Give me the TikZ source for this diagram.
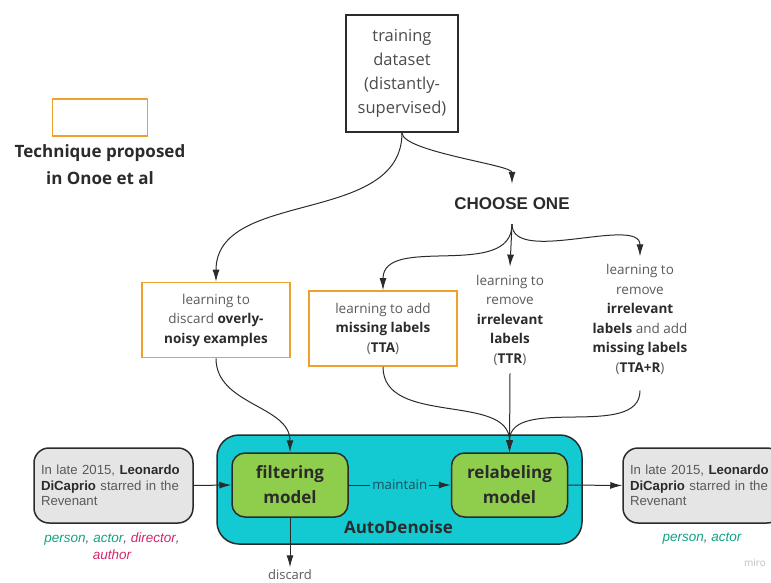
\documentclass[tikz,border=0pt]{standalone}
\usepackage{fontspec}
\setmainfont{Open Sans}
\newfontfamily\arialfont{Liberation Sans}
\usetikzlibrary{arrows.meta}
\definecolor{ochre}{HTML}{F0A02C}
\definecolor{ink}{HTML}{2B2B2B}
\definecolor{greytext}{HTML}{5A5A5A}
\definecolor{tealbox}{HTML}{13CAD3}
\definecolor{leafbox}{HTML}{8FCE4C}
\definecolor{sentbox}{HTML}{E5E5E5}
\definecolor{tagok}{HTML}{12A283}
\definecolor{tagbad}{HTML}{D3246E}
\definecolor{tealtext}{HTML}{1B4F5E}
\newcommand\keyw[1]{\textbf{\color{ink}#1}}

\begin{document}
\begin{tikzpicture}[x=1pt,y=-1pt,
    >={Latex[length=12pt,width=7pt]},
    link/.style={->,line width=1pt,color=ink},
    body/.style={font=\fontsize{13.5}{19.5}\selectfont,text=greytext,align=center},
    technique/.style={body,draw=ochre,line width=1.6pt,minimum width=148,minimum height=75,inner sep=0pt},
    option/.style={body,inner sep=8pt},
    model/.style={draw=ink,line width=1.5pt,fill=leafbox,rounded corners=13pt,minimum width=116,minimum height=64,
      font=\bfseries\fontsize{17}{25}\selectfont,text=ink,align=center},
    sentence/.style={draw=ink,line width=1.5pt,fill=sentbox,rounded corners=15pt,minimum width=159,minimum height=75,
      text width=145,align=left,font=\arialfont\fontsize{13.2}{15.5}\selectfont,text=greytext},
    tags/.style={font=\arialfont\itshape\fontsize{13.5}{17}\selectfont,text=greytext,align=center}]
  \useasboundingbox (0,0) rectangle (771,583);

  \node[draw=ochre,line width=1.6pt,minimum width=95,minimum height=37] (key) at (100,117.5) {};
  \node[font=\bfseries\fontsize{17}{27}\selectfont,text=ink,align=center] (keylbl) at (100,164.5) {Technique proposed\\in Onoe et al};

  \node[draw=ink,line width=1.5pt,minimum width=112,minimum height=117,inner sep=0pt,
    font=\fontsize{16.5}{24}\selectfont,text=ink!85,align=center] (train) at (402,73.5)
    {training\\dataset\\(distantly-\\supervised)};
  \node[font=\arialfont\bfseries\fontsize{17}{20}\selectfont,text=ink,inner ysep=14pt] (choose) at (512,204) {CHOOSE ONE};

  \node[technique] (discex) at (216,320) {learning to\\discard \keyw{overly-}\\\keyw{noisy examples}};
  \node[technique] (addlbl) at (383,328.5) {learning to add\\\keyw{missing labels}\\(\keyw{TTA})};
  \node[option] (remlbl) at (510,320) {learning to\\remove\\\keyw{irrelevant}\\\keyw{labels}\\(\keyw{TTR})};
  \node[option] (bothlbl) at (640,319.5) {learning to\\remove\\\keyw{irrelevant}\\\keyw{labels} and add\\\keyw{missing labels}\\(\keyw{TTA+R})};

  \node[draw=ink,line width=1.5pt,fill=tealbox,rounded corners=22pt,minimum width=365,minimum height=109] (auto) at (399.5,489.5) {};
  \node[model] (filter) at (290,485) {filtering\\model};
  \node[model] (relabel) at (509.5,485) {relabeling\\model};
  \node[font=\bfseries\fontsize{17}{20}\selectfont,text=ink] (autolbl) at (398.5,527) {AutoDenoise};
  \node[font=\fontsize{13}{16}\selectfont,text=greytext,inner sep=2pt] (discard) at (290,574.5) {discard};

  \node[sentence] (sentin) at (113.5,485.5) {In late 2015, \keyw{Leonardo DiCaprio} starred in the Revenant};
  \node[sentence] (sentout) at (702.5,485.5) {In late 2015, \keyw{Leonardo DiCaprio} starred in the Revenant};
  \node[tags] (tagsin) at (112,546.5) {\color{tagok}person\color{greytext}, \color{tagok}actor\color{greytext}, \color{tagbad}director\color{greytext},\\\color{tagbad}author};
  \node[tags] (tagsout) at (702,539) {\color{tagok}person\color{greytext}, \color{tagok}actor};
  \node[font=\fontsize{10}{12}\selectfont,text=black!25] (miro) at (755,563) {miro};

  \draw[link] (train.south) to[out=-90,in=90] (discex.north);
  \draw[link] (train.south) to[out=-90,in=90,looseness=0.4] (choose.north);
  \draw[link] (choose.south) to[out=-90,in=90] (addlbl.north);
  \draw[link] (choose.south) -- (remlbl.north);
  \draw[link] (choose.south) to[out=-90,in=90,looseness=0.8] (bothlbl.north);

  \draw[link] (discex.south) to[out=-90,in=90] (filter.north);
  \draw[link] (addlbl.south) to[out=-90,in=90] (relabel.north);
  \draw[link] (remlbl.south) -- (relabel.north);
  \draw[link,shorten <=8pt] (bothlbl.south) to[out=-90,in=90] (relabel.north);

  \draw[link] (sentin.east) -- (filter.west);
  \draw[link] (filter.east) -- node[fill=tealbox,inner sep=2pt,text=tealtext,font=\fontsize{13.3}{16}\selectfont] {maintain} (relabel.west);
  \draw[link] (relabel.east) -- (sentout.west);
  \draw[link] (filter.south) -- (discard.north);
\end{tikzpicture}
\end{document}
